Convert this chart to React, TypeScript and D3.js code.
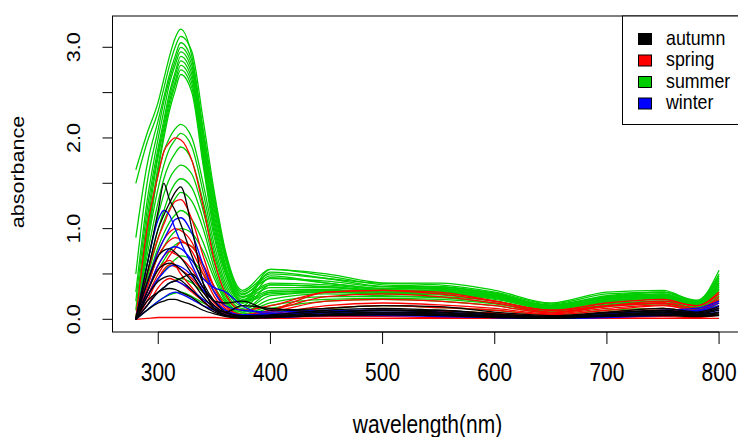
import React from "react";
import * as d3 from "d3";

// wavelength grid (nm) the spectra were read at
const wavelengths = [280, 290, 300, 305, 310, 315, 320, 330, 340, 350, 360, 375, 400, 450, 500, 550, 600, 650, 700, 750, 780, 800];

const summer = [
  [1.65, 2.05, 2.4, 2.65, 2.9, 3.1, 3.2, 2.9, 2.1, 1.35, 0.72, 0.3, 0.5, 0.45, 0.4, 0.4, 0.32, 0.18, 0.3, 0.32, 0.2, 0.54],
  [1.5, 1.95, 2.3, 2.55, 2.8, 3.0, 3.12, 2.95, 2.2, 1.4, 0.75, 0.32, 0.55, 0.5, 0.4, 0.38, 0.3, 0.17, 0.28, 0.3, 0.21, 0.5],
  [0.9, 1.7, 2.2, 2.45, 2.7, 2.9, 3.05, 2.85, 2.05, 1.3, 0.7, 0.28, 0.45, 0.42, 0.36, 0.36, 0.28, 0.16, 0.26, 0.3, 0.2, 0.46],
  [0.5, 1.5, 2.1, 2.4, 2.65, 2.85, 3.0, 2.8, 2.0, 1.25, 0.68, 0.27, 0.48, 0.4, 0.34, 0.35, 0.29, 0.15, 0.25, 0.28, 0.18, 0.42],
  [0.3, 1.3, 2.0, 2.3, 2.6, 2.8, 2.95, 2.75, 1.95, 1.2, 0.65, 0.25, 0.4, 0.38, 0.33, 0.34, 0.27, 0.15, 0.24, 0.27, 0.18, 0.4],
  [0.2, 1.2, 1.9, 2.2, 2.5, 2.72, 2.9, 2.7, 1.9, 1.15, 0.6, 0.24, 0.38, 0.36, 0.32, 0.32, 0.26, 0.14, 0.23, 0.26, 0.17, 0.38],
  [0.1, 1.1, 1.85, 2.15, 2.45, 2.68, 2.85, 2.65, 1.85, 1.1, 0.58, 0.22, 0.35, 0.35, 0.31, 0.31, 0.25, 0.13, 0.22, 0.25, 0.17, 0.36],
  [0.0, 1.0, 1.8, 2.1, 2.4, 2.62, 2.8, 2.6, 1.8, 1.05, 0.55, 0.2, 0.32, 0.33, 0.3, 0.3, 0.25, 0.12, 0.21, 0.24, 0.16, 0.34],
  [0.0, 0.9, 1.7, 2.05, 2.35, 2.58, 2.75, 2.55, 1.75, 1.0, 0.52, 0.19, 0.3, 0.31, 0.29, 0.29, 0.24, 0.12, 0.2, 0.23, 0.15, 0.32],
  [0.0, 0.8, 1.65, 2.0, 2.3, 2.52, 2.7, 2.5, 1.7, 0.95, 0.5, 0.18, 0.28, 0.3, 0.28, 0.28, 0.23, 0.11, 0.19, 0.22, 0.14, 0.3],
  [0.0, 0.9, 1.6, 1.85, 2.0, 2.1, 2.15, 2.0, 1.5, 0.9, 0.45, 0.2, 0.55, 0.48, 0.38, 0.36, 0.28, 0.15, 0.25, 0.3, 0.2, 0.48],
  [0.0, 0.8, 1.45, 1.7, 1.88, 1.98, 2.05, 1.9, 1.4, 0.82, 0.4, 0.18, 0.52, 0.45, 0.36, 0.34, 0.27, 0.15, 0.24, 0.28, 0.19, 0.44],
  [0.0, 0.7, 1.3, 1.55, 1.72, 1.83, 1.9, 1.75, 1.3, 0.75, 0.36, 0.15, 0.46, 0.4, 0.34, 0.33, 0.26, 0.14, 0.22, 0.27, 0.18, 0.4],
  [0.0, 0.6, 1.15, 1.38, 1.55, 1.65, 1.7, 1.6, 1.2, 0.7, 0.32, 0.12, 0.38, 0.36, 0.32, 0.31, 0.24, 0.13, 0.2, 0.25, 0.16, 0.36],
  [0.0, 0.5, 1.0, 1.2, 1.38, 1.5, 1.55, 1.45, 1.1, 0.62, 0.28, 0.1, 0.3, 0.32, 0.3, 0.29, 0.22, 0.12, 0.2, 0.24, 0.15, 0.33],
  [0.0, 0.45, 0.9, 1.08, 1.22, 1.33, 1.4, 1.3, 1.0, 0.56, 0.25, 0.1, 0.26, 0.3, 0.28, 0.27, 0.2, 0.1, 0.18, 0.22, 0.14, 0.3],
  [0.0, 0.4, 0.8, 0.95, 1.07, 1.15, 1.2, 1.1, 0.85, 0.5, 0.22, 0.08, 0.22, 0.28, 0.26, 0.25, 0.2, 0.1, 0.17, 0.2, 0.13, 0.28],
  [0.0, 0.35, 0.7, 0.8, 0.9, 0.97, 1.0, 0.95, 0.75, 0.45, 0.2, 0.08, 0.18, 0.25, 0.25, 0.24, 0.18, 0.09, 0.16, 0.2, 0.12, 0.26],
  [0.0, 0.3, 0.55, 0.65, 0.75, 0.82, 0.85, 0.8, 0.6, 0.36, 0.18, 0.06, 0.15, 0.22, 0.23, 0.22, 0.17, 0.08, 0.15, 0.18, 0.11, 0.24],
  [0.0, 0.25, 0.45, 0.53, 0.6, 0.66, 0.7, 0.65, 0.5, 0.3, 0.15, 0.05, 0.12, 0.2, 0.22, 0.2, 0.15, 0.07, 0.14, 0.17, 0.1, 0.22],
  [0.0, 0.15, 0.3, 0.35, 0.4, 0.43, 0.45, 0.4, 0.3, 0.2, 0.1, 0.04, 0.08, 0.12, 0.15, 0.13, 0.1, 0.05, 0.1, 0.12, 0.08, 0.18],
  [0.0, 0.1, 0.2, 0.24, 0.27, 0.29, 0.3, 0.25, 0.18, 0.12, 0.06, 0.03, 0.05, 0.08, 0.1, 0.09, 0.07, 0.03, 0.06, 0.08, 0.05, 0.12],
];

const spring = [
  [0.0, 1.0, 1.6, 1.85, 1.95, 2.0, 1.98, 1.75, 1.25, 0.65, 0.28, 0.1, 0.15, 0.3, 0.32, 0.28, 0.2, 0.1, 0.15, 0.2, 0.15, 0.3],
  [0.0, 0.5, 0.9, 1.05, 1.2, 1.3, 1.32, 1.1, 0.7, 0.35, 0.15, 0.05, 0.1, 0.25, 0.28, 0.25, 0.18, 0.08, 0.15, 0.18, 0.12, 0.25],
  [0.0, 0.4, 0.75, 0.88, 0.96, 1.0, 0.98, 0.85, 0.55, 0.3, 0.12, 0.04, 0.08, 0.2, 0.22, 0.2, 0.15, 0.07, 0.14, 0.18, 0.12, 0.22],
  [0.0, 0.35, 0.7, 0.8, 0.87, 0.9, 0.88, 0.75, 0.5, 0.25, 0.1, 0.03, 0.06, 0.15, 0.18, 0.16, 0.12, 0.06, 0.12, 0.16, 0.1, 0.2],
  [0.0, 0.3, 0.6, 0.7, 0.75, 0.72, 0.68, 0.55, 0.35, 0.18, 0.08, 0.02, 0.05, 0.12, 0.15, 0.13, 0.1, 0.05, 0.1, 0.15, 0.1, 0.18],
  [0.0, 0.2, 0.45, 0.55, 0.6, 0.58, 0.55, 0.45, 0.3, 0.15, 0.06, 0.02, 0.04, 0.08, 0.1, 0.09, 0.07, 0.03, 0.08, 0.12, 0.08, 0.15],
  [0.0, 0.15, 0.35, 0.42, 0.45, 0.43, 0.4, 0.3, 0.2, 0.1, 0.05, 0.02, 0.03, 0.05, 0.06, 0.05, 0.04, 0.02, 0.06, 0.1, 0.07, 0.12],
  [0.0, 0.01, 0.02, 0.02, 0.02, 0.02, 0.02, 0.02, 0.02, 0.02, 0.01, 0.01, 0.01, 0.01, 0.01, 0.01, 0.01, 0.01, 0.01, 0.01, 0.01, 0.01],
  [0.0, 0.25, 0.5, 0.6, 0.7, 0.78, 0.85, 0.8, 0.6, 0.35, 0.15, 0.05, 0.1, 0.3, 0.32, 0.3, 0.2, 0.1, 0.18, 0.22, 0.15, 0.28],
  [0.0, 0.3, 0.55, 0.62, 0.65, 0.6, 0.5, 0.35, 0.2, 0.1, 0.04, 0.01, 0.02, 0.03, 0.03, 0.02, 0.02, 0.01, 0.02, 0.03, 0.02, 0.05],
];

const winter = [
  [0.0, 0.4, 0.75, 0.88, 1.0, 1.1, 1.12, 0.95, 0.6, 0.3, 0.15, 0.1, 0.08, 0.1, 0.1, 0.08, 0.05, 0.03, 0.06, 0.1, 0.12, 0.2],
  [0.0, 0.6, 1.1, 1.2, 1.15, 1.0, 0.85, 0.6, 0.35, 0.2, 0.1, 0.05, 0.06, 0.08, 0.08, 0.06, 0.04, 0.02, 0.05, 0.08, 0.1, 0.18],
  [0.0, 0.3, 0.6, 0.7, 0.78, 0.8, 0.78, 0.65, 0.45, 0.35, 0.3, 0.15, 0.06, 0.07, 0.07, 0.05, 0.03, 0.02, 0.04, 0.07, 0.09, 0.15],
  [0.0, 0.25, 0.45, 0.52, 0.58, 0.6, 0.58, 0.48, 0.32, 0.2, 0.1, 0.04, 0.04, 0.06, 0.06, 0.04, 0.03, 0.02, 0.04, 0.06, 0.08, 0.12],
  [0.0, 0.15, 0.3, 0.35, 0.4, 0.42, 0.4, 0.32, 0.22, 0.14, 0.07, 0.03, 0.03, 0.05, 0.05, 0.04, 0.02, 0.01, 0.03, 0.05, 0.06, 0.1],
  [0.0, 0.1, 0.2, 0.24, 0.28, 0.3, 0.28, 0.22, 0.15, 0.1, 0.05, 0.02, 0.02, 0.04, 0.04, 0.03, 0.02, 0.01, 0.02, 0.04, 0.05, 0.08],
];

const autumn = [
  [0.0, 0.6, 1.2, 1.5, 1.32, 1.2, 1.05, 0.7, 0.4, 0.2, 0.08, 0.04, 0.05, 0.1, 0.12, 0.1, 0.06, 0.03, 0.07, 0.09, 0.06, 0.1],
  [0.0, 0.5, 1.0, 1.15, 1.28, 1.4, 1.46, 1.0, 0.4, 0.12, 0.08, 0.15, 0.12, 0.08, 0.1, 0.1, 0.06, 0.03, 0.07, 0.1, 0.07, 0.12],
  [0.0, 0.4, 0.7, 0.76, 0.78, 0.74, 0.68, 0.5, 0.3, 0.15, 0.07, 0.03, 0.04, 0.08, 0.1, 0.08, 0.05, 0.02, 0.05, 0.08, 0.05, 0.08],
  [0.0, 0.3, 0.55, 0.6, 0.62, 0.6, 0.55, 0.42, 0.25, 0.12, 0.05, 0.02, 0.03, 0.06, 0.08, 0.07, 0.04, 0.02, 0.05, 0.07, 0.05, 0.07],
  [0.0, 0.25, 0.42, 0.46, 0.48, 0.46, 0.43, 0.32, 0.2, 0.1, 0.04, 0.02, 0.03, 0.05, 0.07, 0.06, 0.03, 0.02, 0.04, 0.06, 0.04, 0.06],
  [0.0, 0.2, 0.3, 0.33, 0.34, 0.33, 0.3, 0.24, 0.15, 0.08, 0.04, 0.02, 0.03, 0.05, 0.06, 0.05, 0.03, 0.01, 0.04, 0.05, 0.04, 0.05],
  [0.0, 0.1, 0.18, 0.2, 0.22, 0.22, 0.2, 0.16, 0.1, 0.06, 0.03, 0.01, 0.02, 0.04, 0.05, 0.04, 0.02, 0.01, 0.03, 0.04, 0.03, 0.04],
  [0.0, 0.15, 0.3, 0.35, 0.4, 0.42, 0.45, 0.5, 0.35, 0.2, 0.18, 0.2, 0.1, 0.12, 0.15, 0.14, 0.08, 0.04, 0.08, 0.12, 0.08, 0.14],
];

const legendLabels = ["autumn", "spring", "summer", "winter"];
const legendColors = ["#000000", "#FF0000", "#00CD00", "#0000FF"];
const xTicks = [300, 400, 500, 600, 700, 800];
const yTicks = [0, 0.5, 1, 1.5, 2, 2.5, 3];
const yLabelTicks = [0, 1, 2, 3];

const W = 738;
const H = 437;
const box = { left: 112.5, right: 742.4, top: 16, bottom: 332 };
const font = "'Liberation Sans', Arial, sans-serif";

export default function App() {
  const x = d3.scaleLinear().domain([259.2, 820.8]).range([box.left, box.right]);
  const y = d3.scaleLinear().domain([-0.14, 3.345]).range([box.bottom, box.top]);

  const line = d3
    .line<number>()
    .x((_, i) => x(wavelengths[i]))
    .y((d) => y(d))
    .curve(d3.curveMonotoneX);

  // drawing order: summer, spring, winter, autumn
  const groups = [
    { rows: summer, color: legendColors[2] },
    { rows: spring, color: legendColors[1] },
    { rows: winter, color: legendColors[3] },
    { rows: autumn, color: legendColors[0] },
  ];

  const rowH = 21.5;

  return (
    <svg width={W} height={H} style={{ position: "absolute", left: 0, top: 0, background: "#fff" }}>
      <defs>
        <clipPath id="plotclip">
          <rect x={box.left} y={box.top} width={box.right - box.left} height={box.bottom - box.top} />
        </clipPath>
      </defs>
      <rect x={0} y={0} width={W} height={H} fill="#fff" />
      <g clipPath="url(#plotclip)">
        {groups.map((g, gi) =>
          g.rows.map((r, ri) => (
            <path key={`${gi}-${ri}`} d={line(r) || ""} fill="none" stroke={g.color} strokeWidth={1.3} />
          ))
        )}
      </g>
      <rect
        x={box.left}
        y={box.top}
        width={box.right - box.left}
        height={box.bottom - box.top}
        fill="none"
        stroke="#000"
        strokeWidth={1}
      />

      {/* x axis */}
      <line x1={x(300)} x2={x(800)} y1={box.bottom} y2={box.bottom} stroke="#000" />
      {xTicks.map((t) => (
        <g key={t}>
          <line x1={x(t)} x2={x(t)} y1={box.bottom} y2={box.bottom + 12} stroke="#000" />
          <text
            transform={`translate(${x(t)},381) scale(1,1.2)`}
            textAnchor="middle"
            fontFamily={font}
            fontSize={21}
            fill="#000"
          >
            {t}
          </text>
        </g>
      ))}
      <text
        transform={`translate(${(box.left + box.right) / 2},433) scale(1,1.2)`}
        textAnchor="middle"
        fontFamily={font}
        fontSize={21}
        fill="#000"
      >
        wavelength(nm)
      </text>

      {/* y axis */}
      <line x1={box.left} x2={box.left} y1={y(0)} y2={y(3)} stroke="#000" />
      {yTicks.map((t) => (
        <line key={t} x1={box.left - 10} x2={box.left} y1={y(t)} y2={y(t)} stroke="#000" />
      ))}
      {yLabelTicks.map((t) => (
        <text
          key={t}
          transform={`translate(80,${y(t)}) rotate(-90) scale(1.16,1)`}
          textAnchor="middle"
          fontFamily={font}
          fontSize={18.6}
          fill="#000"
        >
          {t.toFixed(1)}
        </text>
      ))}
      <text
        transform={`translate(24,172) rotate(-90) scale(1.16,1)`}
        textAnchor="middle"
        fontFamily={font}
        fontSize={18.6}
        fill="#000"
      >
        absorbance
      </text>

      {/* legend */}
      <rect x={622.5} y={16} width={130} height={108.5} fill="#fff" stroke="#000" strokeWidth={1} />
      {legendLabels.map((l, i) => {
        const cy = 39 + i * rowH;
        return (
          <g key={l}>
            <rect x={638.5} y={cy - 5.5} width={13} height={11} fill={legendColors[i]} stroke="#000" strokeWidth={1} />
            <text
              transform={`translate(666,${cy + 5.5}) scale(1,1.12)`}
              fontFamily={font}
              fontSize={17.8}
              fill="#000"
            >
              {l}
            </text>
          </g>
        );
      })}
    </svg>
  );
}
